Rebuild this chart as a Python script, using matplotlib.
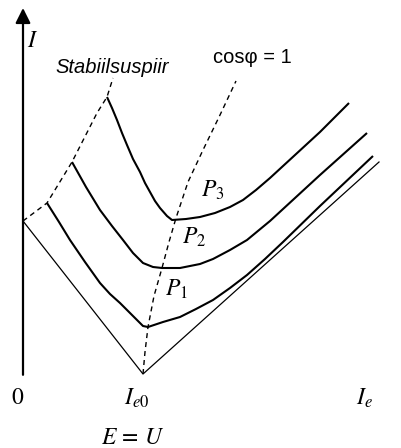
import matplotlib
matplotlib.use("Agg")
import matplotlib.pyplot as plt

plt.rcParams["mathtext.fontset"] = "stix"

# V-curve points, origin at the axes corner (x: excitation current, y: armature current)
v_x = [0, 120, 356]
v_y = [153, 0, 212]

# stability limit (dashed)
stab_x = [0, 24, 49, 74, 84, 90]
stab_y = [153, 171, 212, 261, 277, 296]

# cos(phi) = 1 locus (dashed)
cos_x = [120, 122, 125, 131, 139, 146, 153, 165, 180, 197, 213]
cos_y = [0, 22, 47, 78, 106, 132, 156, 192, 224, 259, 293]

# load curves P1, P2, P3
p1_x = [24, 36, 47, 62, 77, 87, 97, 106, 114, 120, 125, 140, 157, 173, 190, 207, 224, 242, 260, 297, 350]
p1_y = [171, 152, 134, 112, 91, 80, 71, 62, 54, 48, 47, 52, 57, 65, 74, 86, 99, 115, 132, 168, 218]

p2_x = [49, 63, 77, 89, 100, 110, 120, 130, 139, 157, 177, 190, 207, 224, 247, 272, 297, 344]
p2_y = [212, 187, 164, 148, 134, 121, 111, 107, 106, 106, 110, 115, 124, 134, 153, 176, 199, 241]

p3_x = [84, 89, 94, 99, 104, 110, 117, 122, 127, 132, 137, 144, 149, 163, 177, 192, 207, 220, 233, 247, 272, 297, 326]
p3_y = [277, 266, 254, 241, 229, 215, 202, 191, 182, 173, 166, 158, 154, 155, 157, 161, 167, 174, 184, 196, 219, 242, 271]

ie0 = 120

fig = plt.figure(figsize=(4.01, 4.48), dpi=100)
ax = fig.add_axes([0, 0, 1, 1])
ax.set_xlim(-23, 378)
ax.set_ylim(-74, 374)
ax.axis("off")

# axes with arrows
arrow = dict(arrowstyle="-|>,head_length=0.6,head_width=0.3", lw=1.6,
             color="black", mutation_scale=15, shrinkA=0, shrinkB=0)
ax.annotate("", xy=(0, 366), xytext=(0, -0.8), arrowprops=arrow)
ax.annotate("", xy=(384, 0), xytext=(-0.8, 0), arrowprops=arrow)

ax.plot(v_x, v_y, color="black", lw=0.9)
ax.plot(stab_x, stab_y, color="black", lw=1.0, dashes=(3.6, 2.9))
ax.plot(cos_x, cos_y, color="black", lw=1.0, dashes=(3.6, 2.9))

for xs, ys in [(p1_x, p1_y), (p2_x, p2_y), (p3_x, p3_y)]:
    ax.plot(xs, ys, color="black", lw=1.5, solid_joinstyle="round",
            solid_capstyle="butt")

serif = dict(fontsize=17, ha="center", va="center")
ax.text(10, 334, r"$I$", **serif)
ax.text(-5, -23, r"$0$", **serif)
ax.text(ie0 - 6, -24, r"$I_{e0}$", **serif)
ax.text(341, -24, r"$I_e$", **serif)
ax.text(110, -63, r"$E\,=\,U$", **serif)
ax.text(190, 184, r"$P_3$", **serif)
ax.text(171, 137, r"$P_2$", **serif)
ax.text(153, 85, r"$P_1$", **serif)

ax.text(89, 307, "Stabiilsuspiir", fontsize=14.5, style="italic",
        family="Liberation Sans", ha="center", va="center")
ax.text(229, 317, "cosφ = 1", fontsize=14.5, family="Liberation Sans",
        ha="center", va="center")

fig.savefig("out.png", dpi=100)
